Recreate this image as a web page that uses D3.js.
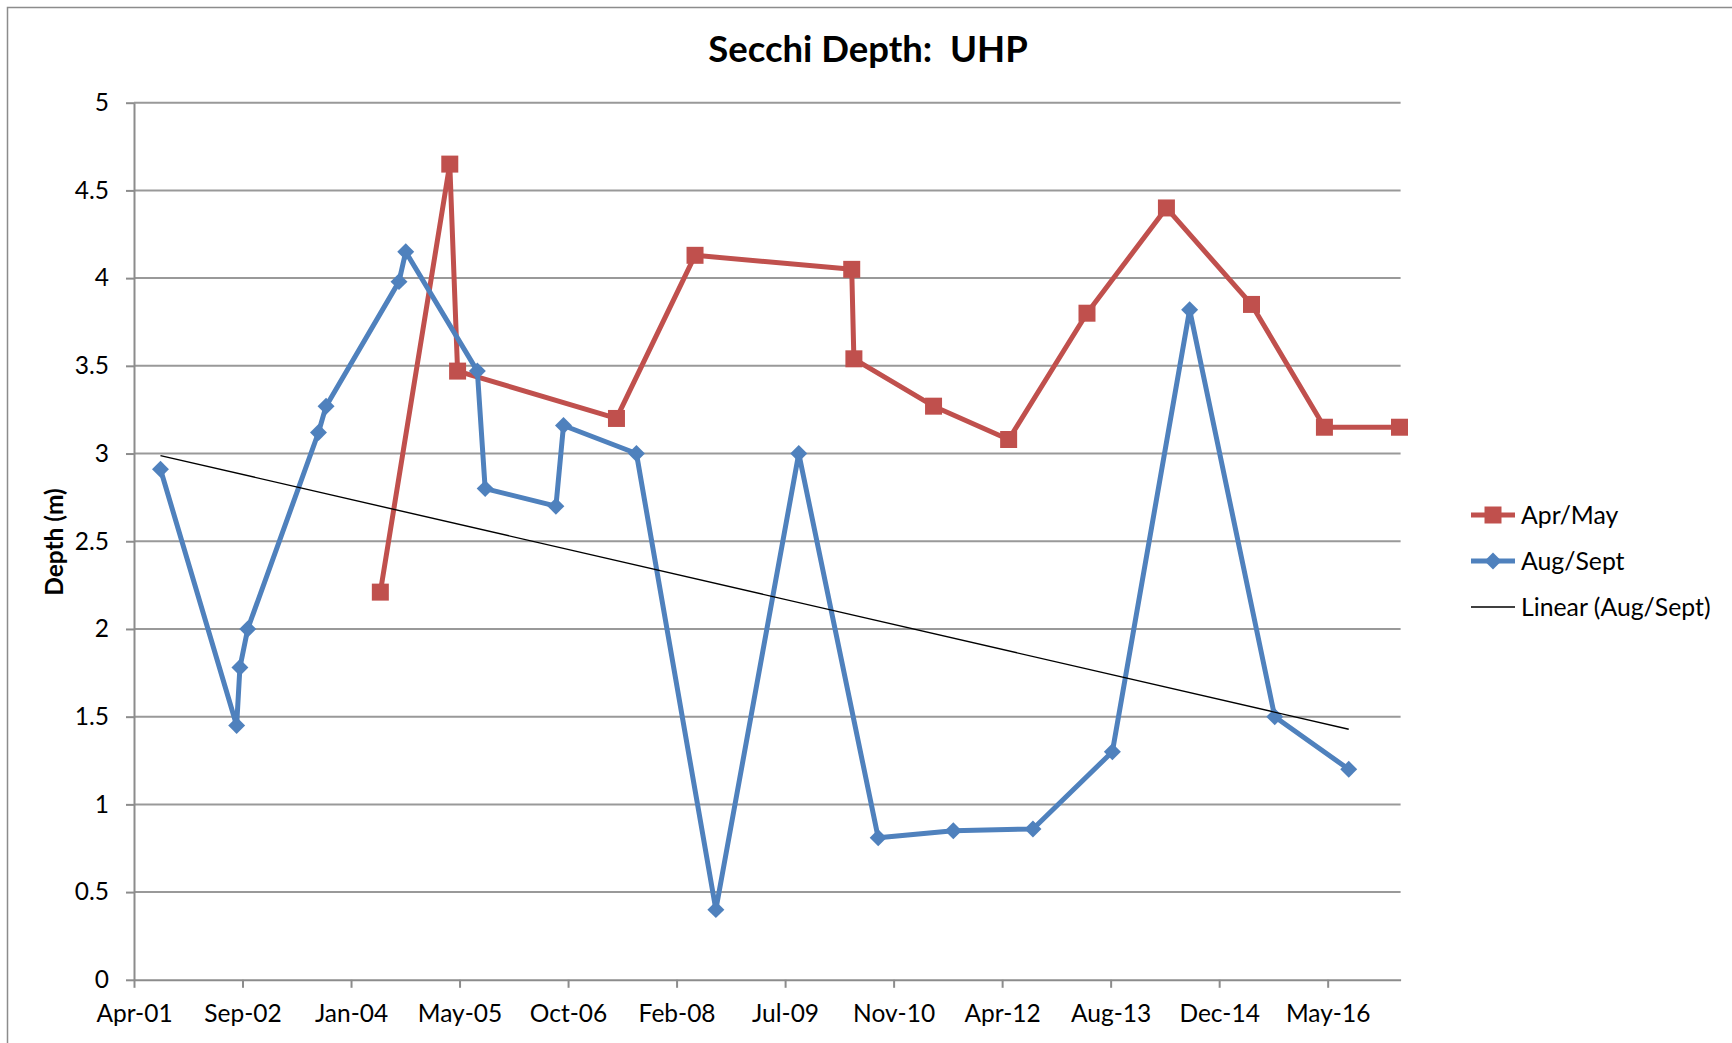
<!DOCTYPE html>
<html lang="en">
<head>
<meta charset="UTF-8">
<title>Secchi Depth: UHP</title>
<script src="https://d3js.org/d3.v7.min.js"></script>
<style>
  body { margin: 0; background: #fff; font-family: Lato, "Open Sans", sans-serif; }
  svg { display: block; }
</style>
</head>
<body>
<div id="chart"></div>
<script>
  // Apr/May readings
  const aprMayDates = ["2004-05-28", "2005-04-13", "2005-05-19", "2007-05-21", "2008-05-17", "2010-05-09", "2010-05-19",
    "2011-05-21", "2012-05-01", "2013-04-27", "2014-04-28", "2015-05-25", "2016-04-25", "2017-04-06"];
  const aprMayDepth = [2.21, 4.65, 3.47, 3.20, 4.13, 4.05, 3.54, 3.27, 3.08, 3.80, 4.40, 3.85, 3.15, 3.15];

  // Aug/Sept readings
  const augSeptDates = ["2001-08-19", "2002-08-05", "2002-08-20", "2002-09-25", "2003-08-17", "2003-09-21", "2004-08-22",
    "2004-09-22", "2005-08-18", "2005-09-23", "2006-08-15", "2006-09-19", "2007-08-21", "2008-08-21", "2009-09-07",
    "2010-09-08", "2011-08-20", "2012-08-21", "2013-08-22", "2014-08-13", "2015-09-09", "2016-08-15"];
  const augSeptDepth = [2.91, 1.45, 1.78, 2.00, 3.12, 3.27, 3.98, 4.15, 3.47, 2.80, 2.70, 3.16, 3.00, 0.40, 3.00,
    0.81, 0.85, 0.86, 1.30, 3.82, 1.50, 1.20];

  // axes
  const xDomain = ["2001-04-19", "2017-04-11"];
  const tickDates = ["2001-04-19", "2002-09-01", "2004-01-14", "2005-05-28", "2006-10-10", "2008-02-22",
    "2009-07-06", "2010-11-18", "2012-04-01", "2013-08-14", "2014-12-27", "2016-05-10"];
  const yTicks = [0, 0.5, 1, 1.5, 2, 2.5, 3, 3.5, 4, 4.5, 5];

  const seriesNames = ["Apr/May", "Aug/Sept", "Linear (Aug/Sept)"];
  const chartTitle = "Secchi Depth:  UHP";
  const yTitle = "Depth (m)";

  const red = "#C0504D", blue = "#4F81BD", grid = "#999999";
  const W = 1732, H = 1043;
  const plotLeft = 134, plotRight = 1400.6, plotTop = 102.7, plotBottom = 979.8;

  const parse = d3.timeParse("%Y-%m-%d");
  const aprMay = aprMayDates.map((d, i) => ({ date: parse(d), v: aprMayDepth[i] }));
  const augSept = augSeptDates.map((d, i) => ({ date: parse(d), v: augSeptDepth[i] }));

  const x = d3.scaleTime().domain(xDomain.map(parse)).range([plotLeft, plotRight]);
  const y = d3.scaleLinear().domain([0, 5]).range([plotBottom, plotTop]);

  const svg = d3.select("#chart").append("svg").attr("width", W).attr("height", H);
  svg.append("rect").attr("width", W).attr("height", H).attr("fill", "#fff");
  // chart area border (runs off the right and bottom edges)
  svg.append("rect").attr("x", 7.5).attr("y", 7.5).attr("width", W + 20).attr("height", H + 20)
    .attr("fill", "none").attr("stroke", "#8c8c8c").attr("stroke-width", 1.5);

  // gridlines
  svg.append("g").selectAll("line").data(yTicks.filter(d => d > 0)).join("line")
    .attr("x1", plotLeft).attr("x2", plotRight)
    .attr("y1", d => y(d)).attr("y2", d => y(d))
    .attr("stroke", grid).attr("stroke-width", 2);

  // axes
  const xAxis = svg.append("g").attr("transform", `translate(0,${plotBottom})`)
    .call(d3.axisBottom(x).tickValues(tickDates.map(parse)).tickFormat(d3.timeFormat("%b-%y"))
      .tickSizeInner(8).tickSizeOuter(0).tickPadding(17));
  const yAxis = svg.append("g").attr("transform", `translate(${plotLeft},0)`)
    .call(d3.axisLeft(y).tickValues(yTicks).tickFormat(d3.format("~g"))
      .tickSizeInner(8).tickSizeOuter(0).tickPadding(17));
  [xAxis, yAxis].forEach(g => {
    g.select(".domain").attr("stroke", "#8c8c8c").attr("stroke-width", 2);
    g.selectAll(".tick line").attr("stroke", "#8c8c8c").attr("stroke-width", 2);
    g.selectAll(".tick text").attr("fill", "#000").style("font-family", "Lato").style("font-size", "24.5px");
  });

  // Apr/May series
  const line = d3.line().x(d => x(d.date)).y(d => y(d.v));
  svg.append("path").datum(aprMay).attr("d", line)
    .attr("fill", "none").attr("stroke", red).attr("stroke-width", 5).attr("stroke-linejoin", "round");
  const square = d3.symbol(d3.symbolSquare, 17 * 17);
  const diamond = d3.symbol(d3.symbolSquare, 12 * 12);
  svg.append("g").selectAll("path").data(aprMay).join("path")
    .attr("d", square).attr("transform", d => `translate(${x(d.date)},${y(d.v)})`).attr("fill", red);

  // Aug/Sept series
  svg.append("path").datum(augSept).attr("d", line)
    .attr("fill", "none").attr("stroke", blue).attr("stroke-width", 5).attr("stroke-linejoin", "round");
  svg.append("g").selectAll("path").data(augSept).join("path")
    .attr("d", diamond).attr("transform", d => `translate(${x(d.date)},${y(d.v)}) rotate(45)`).attr("fill", blue);

  // linear trend of Aug/Sept (least squares on date)
  const xs = augSept.map(d => +d.date), ys = augSept.map(d => d.v);
  const mx = d3.mean(xs), my = d3.mean(ys);
  const slope = d3.sum(xs, (xv, i) => (xv - mx) * (ys[i] - my)) / d3.sum(xs, xv => (xv - mx) ** 2);
  const trend = d3.extent(augSept, d => d.date).map(dt => ({ date: dt, v: my + slope * (+dt - mx) }));
  svg.append("path").datum(trend).attr("d", line).attr("fill", "none").attr("stroke", "#000").attr("stroke-width", 1.4);

  // title
  svg.append("text").attr("x", 868).attr("y", 62).attr("text-anchor", "middle")
    .style("white-space", "pre").style("font-size", "36.5px").style("font-weight", "bold").text(chartTitle);
  svg.append("text").attr("transform", "translate(63,542) rotate(-90)").attr("text-anchor", "middle")
    .style("font-size", "24.5px").style("font-weight", "bold").text(yTitle);

  // legend
  const legendY = [515, 561, 607];
  const lg = svg.append("g");
  seriesNames.forEach((name, i) => {
    const g = lg.append("g").attr("transform", `translate(1471,${legendY[i]})`);
    g.append("line").attr("x1", 0).attr("x2", 44)
      .attr("stroke", i === 0 ? red : i === 1 ? blue : "#000").attr("stroke-width", i === 2 ? 1.5 : 5);
    if (i === 0) g.append("path").attr("d", square).attr("transform", "translate(22,0)").attr("fill", red);
    if (i === 1) g.append("path").attr("d", diamond).attr("transform", "translate(22,0) rotate(45)").attr("fill", blue);
    g.append("text").attr("x", 50).attr("dy", "0.35em").style("font-size", "24.8px").text(name);
  });
</script>
</body>
</html>
